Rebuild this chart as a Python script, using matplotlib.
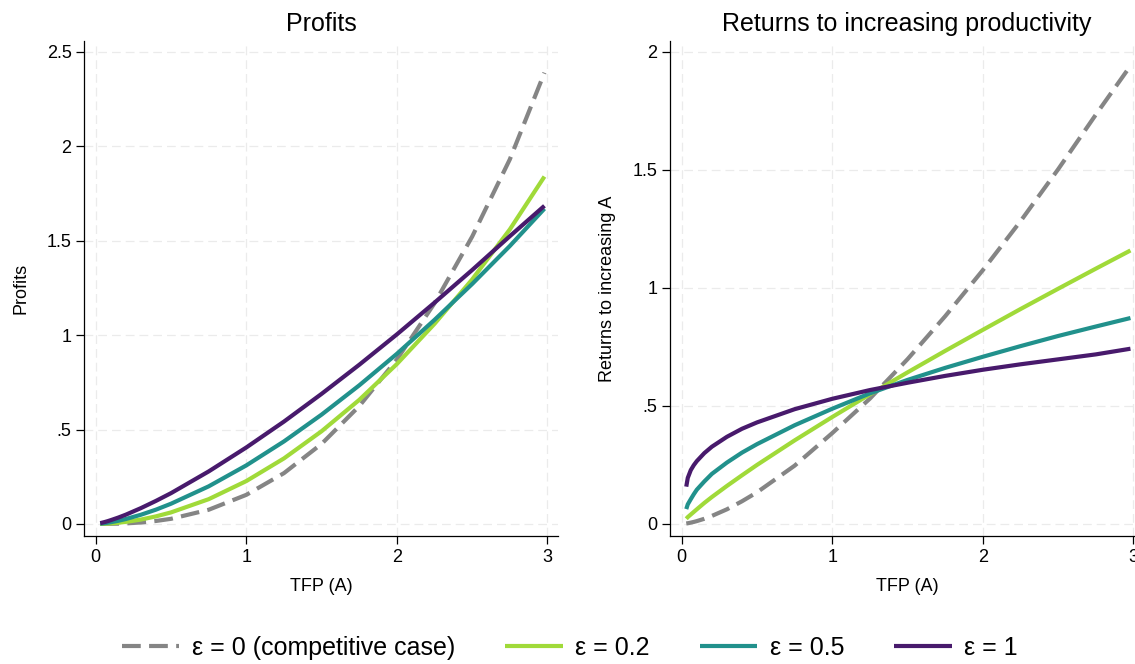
import matplotlib
matplotlib.use('Agg')
import matplotlib.pyplot as plt

plt.rcParams['font.family'] = ['Liberation Sans', 'DejaVu Sans']

# TFP grid
tfp = [0.03, 0.04, 0.06, 0.08, 0.1, 0.15, 0.2, 0.3, 0.4, 0.5, 0.75, 1.0,
       1.25, 1.5, 1.75, 2.0, 2.25, 2.5, 2.75, 2.98]

# Profits panel
profit_eps0 = [0.0, 0.0, 0.0001, 0.0003, 0.0005, 0.0013, 0.0028, 0.0076, 0.0156, 0.027, 0.075, 0.154,
               0.269, 0.424, 0.624, 0.871, 1.169, 1.522, 1.931, 2.39]
profit_eps02 = [0.0003, 0.0005, 0.0011, 0.0019, 0.0029, 0.0062, 0.0107, 0.023, 0.040, 0.061, 0.131, 0.227,
                0.347, 0.491, 0.657, 0.847, 1.06, 1.295, 1.56, 1.84]
profit_eps05 = [0.0014, 0.0022, 0.0041, 0.0063, 0.009, 0.0167, 0.026, 0.0486, 0.0756, 0.107, 0.199, 0.31,
                0.437, 0.579, 0.734, 0.901, 1.081, 1.271, 1.472, 1.67]
profit_eps1 = [0.0041, 0.006, 0.0102, 0.0148, 0.020, 0.0337, 0.049, 0.0837, 0.122, 0.163, 0.278, 0.405,
               0.542, 0.689, 0.843, 1.004, 1.172, 1.345, 1.524, 1.685]

# Returns to increasing productivity panel
ret_eps0 = [0.002, 0.003, 0.0056, 0.0086, 0.012, 0.022, 0.034, 0.062, 0.096, 0.134, 0.247, 0.385,
            0.531, 0.698, 0.88, 1.075, 1.282, 1.502, 1.733, 1.94]
ret_eps02 = [0.022, 0.029, 0.040, 0.051, 0.062, 0.089, 0.114, 0.161, 0.206, 0.250, 0.354, 0.453,
             0.549, 0.642, 0.733, 0.822, 0.910, 0.996, 1.081, 1.158]
ret_eps05 = [0.063, 0.083, 0.105, 0.126, 0.145, 0.180, 0.212, 0.26, 0.302, 0.338, 0.418, 0.488,
             0.553, 0.61, 0.661, 0.708, 0.753, 0.796, 0.836, 0.872]
ret_eps1 = [0.158, 0.195, 0.228, 0.249, 0.266, 0.300, 0.327, 0.369, 0.403, 0.430, 0.486, 0.53,
            0.567, 0.598, 0.627, 0.653, 0.676, 0.697, 0.718, 0.742]

labels = ['ε = 0 (competitive case)', 'ε = 0.2', 'ε = 0.5', 'ε = 1']
colors = ['#858585', '#a0da39', '#21918c', '#481a6c']

x_ticks = [0, 1, 2, 3]
x_ticklabels = ['0', '1', '2', '3']
y1_ticks = [0, 0.5, 1, 1.5, 2, 2.5]
y1_ticklabels = ['0', '.5', '1', '1.5', '2', '2.5']
y2_ticks = [0, 0.5, 1, 1.5, 2]
y2_ticklabels = ['0', '.5', '1', '1.5', '2']

W, H = 1135, 664
fig = plt.figure(figsize=(W / 100, H / 100), dpi=100)
ax1 = fig.add_axes([84 / W, 1 - 536 / H, (558 - 84) / W, (536 - 41) / H])
ax2 = fig.add_axes([670 / W, 1 - 536 / H, (1144 - 670) / W, (536 - 41) / H])

styles = [(0, (4.5, 2)), '-', '-', '-']


def draw(ax, series, title, ylabel, yticks, yticklabels, ylim):
    lines = []
    for ys, c, ls, lab in zip(series, colors, styles, labels):
        ln, = ax.plot(tfp, ys, color=c, lw=3, linestyle=ls, label=lab,
                      solid_capstyle='butt', dash_capstyle='butt')
        lines.append(ln)
    ax.set_xlim(-0.078, 3.07)
    ax.set_ylim(*ylim)
    ax.set_xticks(x_ticks)
    ax.set_xticklabels(x_ticklabels)
    ax.set_yticks(yticks)
    ax.set_yticklabels(yticklabels)
    ax.grid(True, color='#ebebeb', linestyle=(0, (7, 4)), lw=0.9)
    ax.set_axisbelow(True)
    for s in ['top', 'right']:
        ax.spines[s].set_visible(False)
    for s in ['left', 'bottom']:
        ax.spines[s].set_linewidth(0.9)
    ax.tick_params(direction='out', length=6, width=0.9, labelsize=13, pad=3)
    ax.set_title(title, fontsize=18, pad=7)
    ax.set_xlabel('TFP (A)', fontsize=13, labelpad=9)
    ax.set_ylabel(ylabel, fontsize=13, labelpad=12)
    return lines


handles = draw(ax1, [profit_eps0, profit_eps02, profit_eps05, profit_eps1],
               'Profits', 'Profits', y1_ticks, y1_ticklabels, (-0.064, 2.558))
draw(ax2, [ret_eps0, ret_eps02, ret_eps05, ret_eps1],
     'Returns to increasing productivity', 'Returns to increasing A',
     y2_ticks, y2_ticklabels, (-0.051, 2.045))

fig.legend(handles, labels, loc='center', bbox_to_anchor=(0.502, 1 - 648 / H),
           ncol=4, frameon=False, fontsize=18, handlelength=2.3,
           handletextpad=0.5, columnspacing=2.0)

fig.savefig('out.png', dpi=100)
